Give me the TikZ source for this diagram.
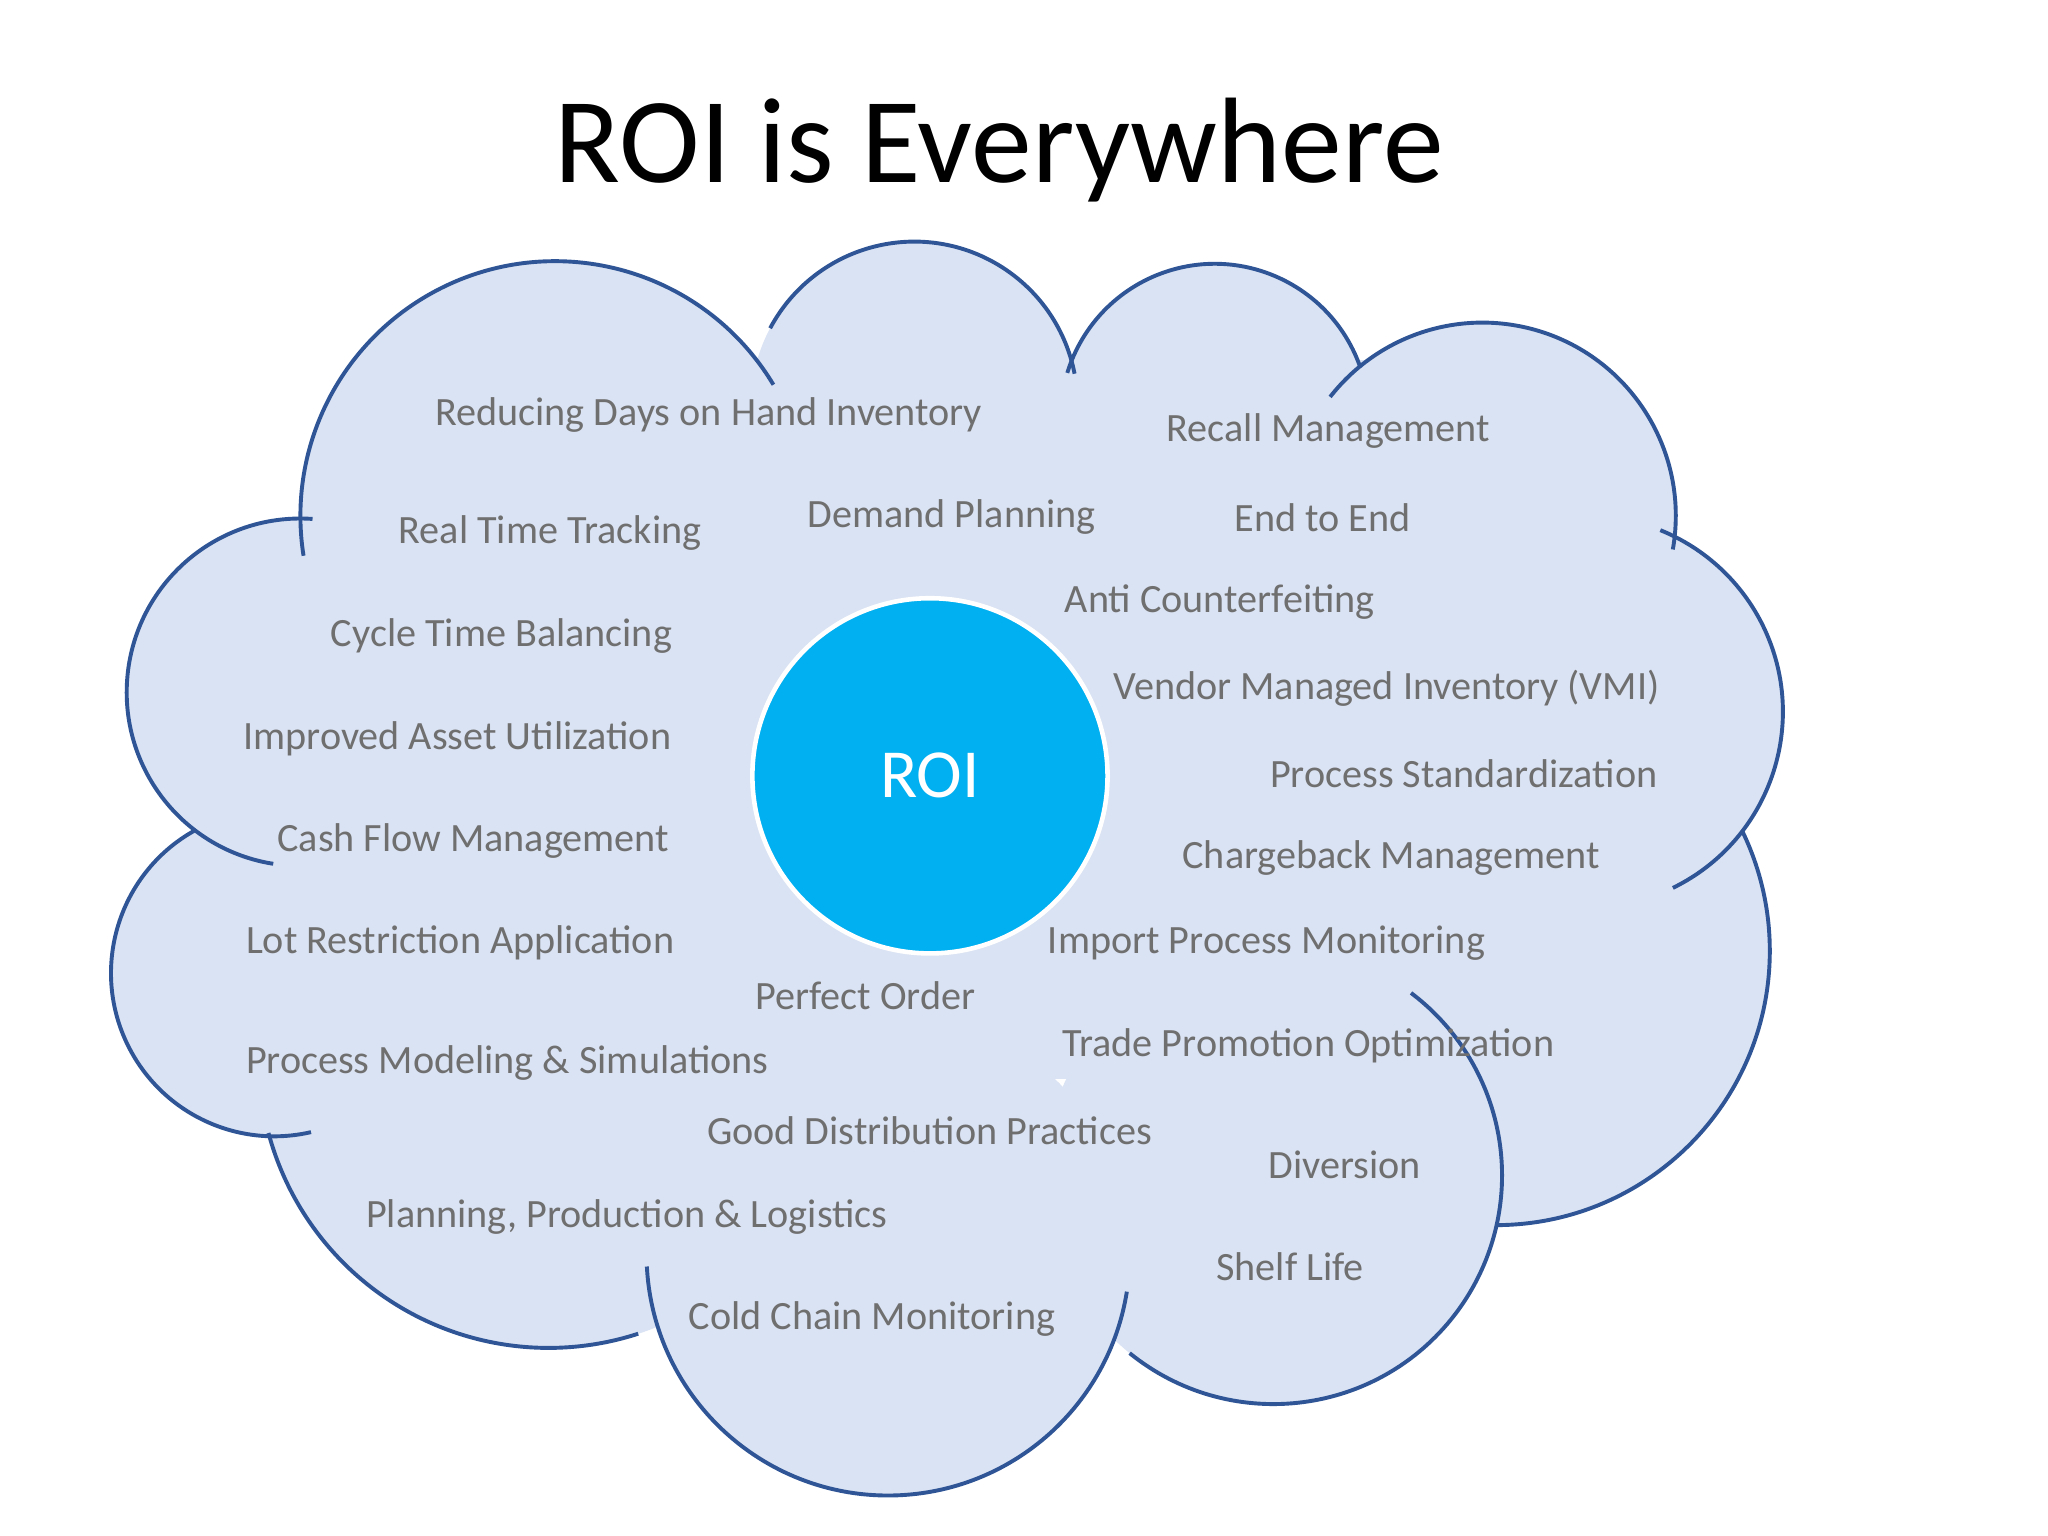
\documentclass[tikz,border=0pt]{standalone}
\usepackage{fontspec}
\setmainfont{Carlito}
\definecolor{cloudfill}{HTML}{DAE3F3}
\definecolor{cloudline}{HTML}{2F5597}
\definecolor{roiblue}{HTML}{00B0F0}
\definecolor{lbl}{HTML}{6F6F6F}
\tikzset{lab/.style={anchor=west,text=lbl,font=\fontsize{17.5}{20}\selectfont,inner sep=0pt},
  edge/.style={draw=cloudline,line width=1.7pt}}
\begin{document}
\begin{tikzpicture}[x=0.02cm,y=0.02cm]
\useasboundingbox (0,0) rectangle (1568,1176);
\fill[white] (0,0) rectangle (1568,1176);
\foreach \x/\y/\r in {425/395/195,700/310/125,930/320/118,1135/395/148,1215/545/150,1145/728/210,975/900/175,680/960/185,420/810/222,210/745/125,230/530/133}
  \fill[cloudfill] (\x,1176-\y) circle[radius=\r];
\fill[cloudfill] (300,350) rectangle (1200,900);
\foreach \x/\y/\r/\a/\b in {425/395/195/31/189,700/310/125/11/152,930/320/118/19/163,1135/395/148/-10/142,1215/545/150/-64/68,1145/728/210/-90/26,975/900/175/-129/53,680/960/185/183/351,420/810/222/195/288,210/745/125/119/283,230/530/133/86/261}
  \draw[edge] ([shift={(\a:\r)}]\x,1176-\y) arc[start angle=\a,end angle=\b,radius=\r];
\node[font=\fontsize{53}{60}\selectfont] (title) at (765,1176-115) {ROI is Everywhere};
\node[circle,fill=roiblue,draw=white,line width=2pt,minimum size=5.44cm,text=white,font=\fontsize{30}{34}\selectfont] (roi) at (712,1176-594) {ROI};
\foreach \n/\x/\y/\t in {a/333/318/Reducing Days on Hand Inventory,b/893/330/Recall Management,c/305/408/Real Time Tracking,d/618/396/Demand Planning,e/945/396/End to End,f/815/461/Anti Counterfeiting,g/253/487/Cycle Time Balancing,h/852/527/Vendor Managed Inventory (VMI),i/186/566/Improved Asset Utilization,j/972/592/Process Standardization,k/212/644/Cash Flow Management,l/905/657/Chargeback Management,m/188/722/Lot Restriction Application,n/802/722/Import Process Monitoring,o/578/762/Perfect Order,p/813/801/Trade Promotion Optimization,q/188/814/Process Modeling \& Simulations,r/541/866/Good Distribution Practices,s/971/892/Diversion,t/280/932/{Planning, Production \& Logistics},u/931/970/Shelf Life,v/527/1010/Cold Chain Monitoring}
  \node[lab] (\n) at (\x,1176-\y) {\t};
\end{tikzpicture}
\end{document}
